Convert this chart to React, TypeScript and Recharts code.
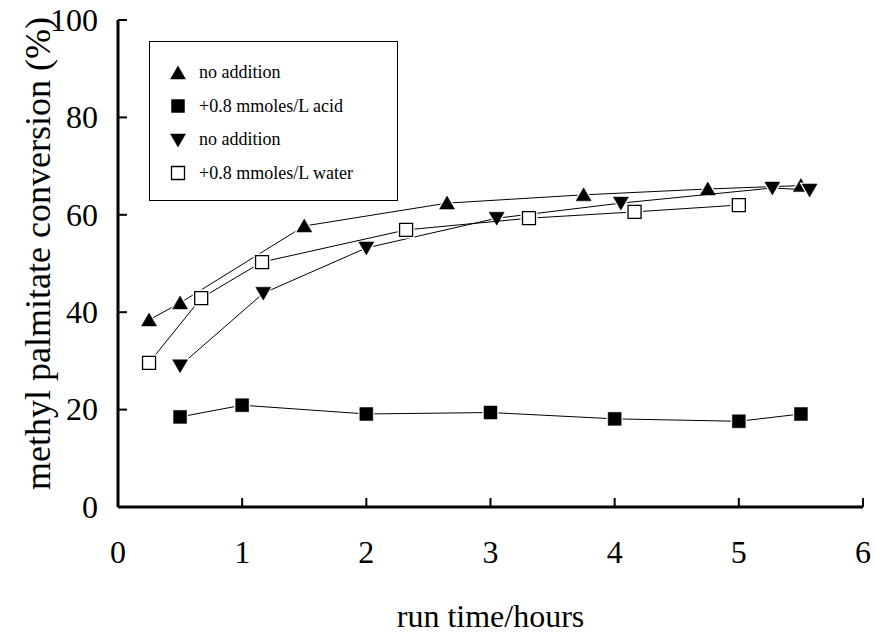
import { ScatterChart, Scatter, XAxis, YAxis, Legend, Label } from 'recharts';

// run time (hours) and conversion (%) for each run
const noAddA_t = [0.25, 0.5, 1.5, 2.65, 3.75, 4.75, 5.5];
const noAddA_c = [38.4, 41.9, 57.7, 62.4, 64.1, 65.3, 66.0];

const acid_t = [0.5, 1, 2, 3, 4, 5, 5.5];
const acid_c = [18.5, 20.9, 19.1, 19.4, 18.1, 17.6, 19.1];

const noAddB_t = [0.5, 1.17, 2, 3.05, 4.05, 5.27, 5.57];
const noAddB_c = [29.0, 43.9, 53.2, 59.3, 62.4, 65.5, 65.1];

const water_t = [0.25, 0.67, 1.16, 2.32, 3.31, 4.16, 5.0];
const water_c = [29.6, 42.9, 50.3, 56.9, 59.3, 60.6, 62.0];

const xTicks = [0, 1, 2, 3, 4, 5, 6];
const yTicks = [0, 20, 40, 60, 80, 100];

const seriesNames = ['no addition', '+0.8 mmoles/L acid', 'no addition', '+0.8 mmoles/L water'];

const FONT = '"Liberation Serif", "Times New Roman", serif';

const toPoints = (ts: number[], cs: number[]) => ts.map((t, i) => ({ x: t, y: cs[i] }));

type MarkKind = 'up' | 'square' | 'down' | 'open';

function markerPath(kind: MarkKind, cx: number, cy: number) {
  if (kind === 'up') return `M${cx},${cy - 7}L${cx + 7.5},${cy + 6}L${cx - 7.5},${cy + 6}Z`;
  if (kind === 'down') return `M${cx},${cy + 7}L${cx + 7.5},${cy - 6}L${cx - 7.5},${cy - 6}Z`;
  return `M${cx - 6.5},${cy - 6.5}h13v13h-13Z`;
}

function Marker({ kind, cx, cy }: { kind: MarkKind; cx: number; cy: number }) {
  const d = markerPath(kind, cx, cy);
  if (kind === 'open') {
    return (
      <g>
        <path d={d} fill="#fff" stroke="#fff" strokeWidth={4} />
        <path d={d} fill="#fff" stroke="#000" strokeWidth={1.3} />
      </g>
    );
  }
  return (
    <g>
      <path d={d} fill="#fff" stroke="#fff" strokeWidth={3} />
      <path d={d} fill="#000" stroke="#000" strokeWidth={0.5} />
    </g>
  );
}

const makeShape = (kind: MarkKind) => (props: any) => <Marker kind={kind} cx={props.cx} cy={props.cy} />;

const kinds: MarkKind[] = ['up', 'square', 'down', 'open'];

function LegendBox() {
  return (
    <div
      style={{
        width: 249,
        height: 160,
        border: '1px solid #000',
        boxSizing: 'border-box',
        background: '#fff',
        fontFamily: FONT,
        fontSize: 18,
        paddingTop: 14,
      }}
    >
      {seriesNames.map((name, i) => (
        <div key={i} style={{ display: 'flex', alignItems: 'center', height: 33.5 }}>
          <svg width={48} height={20} style={{ flex: 'none' }}>
            <Marker kind={kinds[i]} cx={28} cy={10} />
          </svg>
          <span style={{ marginLeft: 1 }}>{name}</span>
        </div>
      ))}
    </div>
  );
}

const serifText = { fontFamily: FONT, fontSize: 32 };

const XTick = (props: any) => (
  <text x={props.x} y={props.y} dy="0.71em" textAnchor="middle" style={serifText} fill="#000">
    {props.payload.value}
  </text>
);

const YTick = (props: any) => (
  <text x={props.x} y={props.y} dy="0.34em" textAnchor="end" style={serifText} fill="#000">
    {props.payload.value}
  </text>
);

const YTitle = (props: any) => {
  const vb = props.viewBox;
  const x = vb.x + 38;
  const y = vb.y + vb.height / 2 - 10;
  return (
    <text x={x} y={y} transform={`rotate(-90, ${x}, ${y})`} textAnchor="middle" dominantBaseline="central"
      style={{ fontFamily: FONT, fontSize: 36 }} fill="#000">
      methyl palmitate conversion (%)
    </text>
  );
};

const XTitle = (props: any) => {
  const vb = props.viewBox;
  return (
    <text x={vb.x + vb.width / 2} y={vb.y + 120} textAnchor="middle" style={serifText} fill="#000">
      run time/hours
    </text>
  );
};

export default function App() {
  const axisLine = { stroke: '#000', strokeWidth: 3 };
  const tickLine = { stroke: '#000', strokeWidth: 2 };
  return (
    <div style={{ width: 875, height: 639, background: '#fff', fontFamily: FONT }}>
      <style>{'body{margin:0}'}</style>
      <ScatterChart width={875} height={639} margin={{ top: 20, right: 12, bottom: 0, left: 0 }} style={{ fontFamily: FONT }}>
        <XAxis
          type="number"
          dataKey="x"
          domain={[0, 6]}
          ticks={xTicks}
          interval={0}
          height={132}
          axisLine={axisLine}
          tickLine={tickLine}
          tickSize={-9}
          tickMargin={42}
          tick={XTick}
        >
          <Label content={XTitle} />
        </XAxis>
        <XAxis xAxisId="top" orientation="top" type="number" domain={[0, 6]} height={0} tick={false} tickLine={false} axisLine={axisLine} />
        <YAxis
          type="number"
          dataKey="y"
          domain={[0, 100]}
          ticks={yTicks}
          interval={0}
          width={118}
          axisLine={axisLine}
          tickLine={tickLine}
          tickSize={-9}
          tickMargin={29}
          tick={YTick}
        >
          <Label content={YTitle} />
        </YAxis>
        <YAxis yAxisId="right" orientation="right" type="number" domain={[0, 100]} width={0} tick={false} tickLine={false} axisLine={axisLine} />
        <Legend
          layout="vertical"
          align="center"
          verticalAlign="middle"
          wrapperStyle={{ left: 149, top: 41, width: 249, height: 160 }}
          content={() => <LegendBox />}
        />
        <Scatter name={seriesNames[0]} data={toPoints(noAddA_t, noAddA_c)} line={{ stroke: '#000', strokeWidth: 1 }} shape={makeShape('up')} isAnimationActive={false} />
        <Scatter name={seriesNames[1]} data={toPoints(acid_t, acid_c)} line={{ stroke: '#000', strokeWidth: 1 }} shape={makeShape('square')} isAnimationActive={false} />
        <Scatter name={seriesNames[2]} data={toPoints(noAddB_t, noAddB_c)} line={{ stroke: '#000', strokeWidth: 1 }} shape={makeShape('down')} isAnimationActive={false} />
        <Scatter name={seriesNames[3]} data={toPoints(water_t, water_c)} line={{ stroke: '#000', strokeWidth: 1 }} shape={makeShape('open')} isAnimationActive={false} />
      </ScatterChart>
    </div>
  );
}
